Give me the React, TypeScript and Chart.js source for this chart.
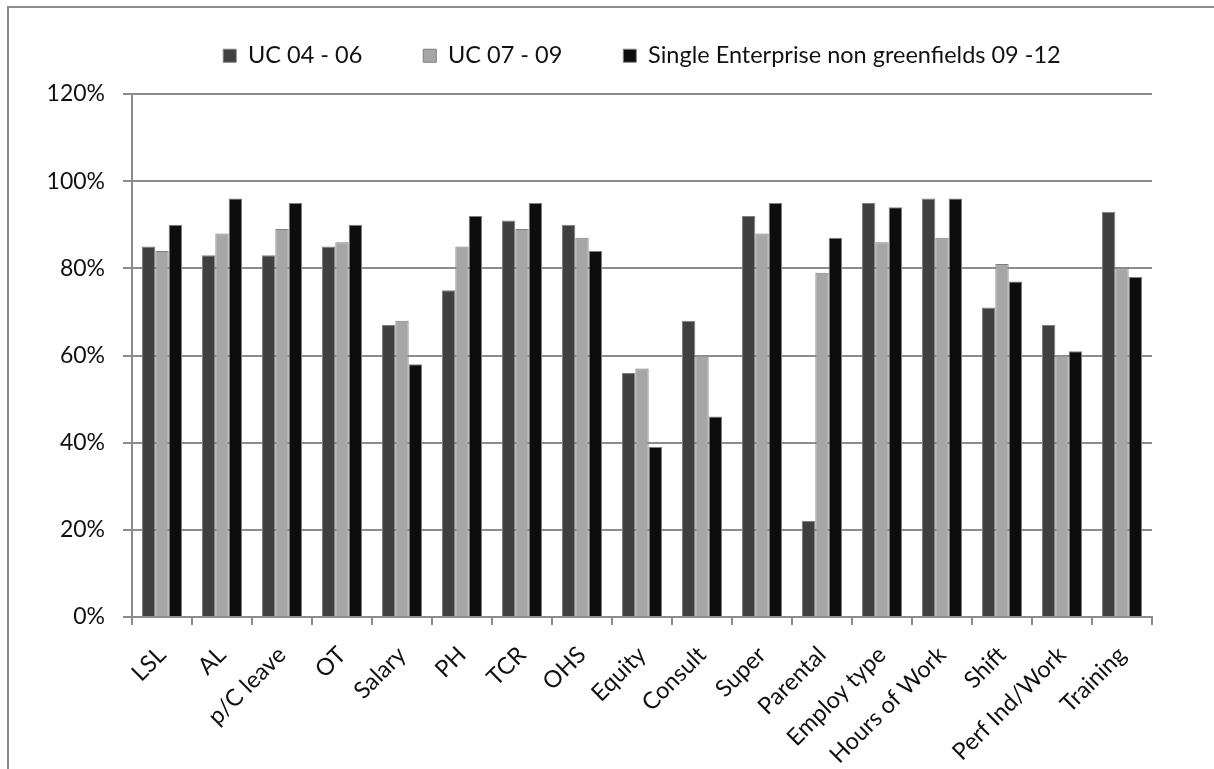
import React, { useEffect, useRef } from "react";
import { Chart, registerables } from "chart.js";

Chart.register(...registerables);

const categories = [
  "LSL", "AL", "p/C leave", "OT", "Salary", "PH", "TCR", "OHS", "Equity",
  "Consult", "Super", "Parental", "Employ type", "Hours of Work", "Shift",
  "Perf Ind/Work", "Training",
];
const seriesNames = ["UC 04 - 06", "UC 07 - 09", "Single Enterprise non greenfields 09 -12"];
const uc0406 = [85, 83, 83, 85, 67, 75, 91, 90, 56, 68, 92, 22, 95, 96, 71, 67, 93];
const uc0709 = [84, 88, 89, 86, 68, 85, 89, 87, 57, 60, 88, 79, 86, 87, 81, 60, 80];
const single0912 = [90, 96, 95, 90, 58, 92, 95, 84, 39, 46, 95, 87, 94, 96, 77, 61, 78];
const yTicks = [0, 20, 40, 60, 80, 100, 120];

const colors = ["#404040", "#a6a6a6", "#0d0d0d"];
const FONT = "Lato, 'Liberation Sans', sans-serif";

export default function App() {
  const ref = useRef<HTMLCanvasElement | null>(null);
  useEffect(() => {
    if (!ref.current) return;
    const legendTweak = {
      id: "legendTweak",
      beforeInit(chart: any) {
        const lg = chart.legend;
        if (!lg) return;
        const origFit = lg.fit;
        lg.fit = function () {
          origFit.call(this);
          this.height = 94;
        };
        const origDraw = lg.draw;
        lg.draw = function (...args: any[]) {
          const t = this.top;
          this.top = t - 17;
          origDraw.apply(this, args);
          this.top = t;
        };
      },
    };
    const data = [uc0406, uc0709, single0912];
    const chart = new Chart(ref.current, {
      type: "bar",
      data: {
        labels: categories,
        datasets: data.map((d, i) => ({
          label: seriesNames[i],
          data: d,
          backgroundColor: colors[i],
          borderColor: "#7f7f7f",
          borderWidth: 1,
          categoryPercentage: 0.667,
          barPercentage: 1,
        })),
      },
      options: {
        animation: false,
        responsive: false,
        devicePixelRatio: 1,
        layout: { padding: { top: 0, right: 62, bottom: 0, left: 0 } },
        plugins: {
          tooltip: { enabled: false },
          legend: {
            position: "top",
            fullSize: false,
            labels: {
              boxWidth: 13,
              boxHeight: 13,
              padding: 61,
              color: "#111111",
              font: { family: FONT, size: 23.5 },
            },
          },
        },
        scales: {
          x: {
            afterFit: (s: any) => {
              s.height = 769 - 617;
            },
            grid: {
              drawOnChartArea: false,
              drawTicks: true,
              tickLength: 8,
              color: "#8c8c8c",
              lineWidth: 2,
            },
            border: { color: "#8c8c8c", width: 2 },
            ticks: {
              autoSkip: false,
              minRotation: 45,
              maxRotation: 45,
              padding: 16,
              color: "#111111",
              font: { family: FONT, size: 23.5 },
            },
          },
          y: {
            min: 0,
            max: 120,
            afterFit: (s: any) => {
              s.width = 132;
            },
            afterBuildTicks: (s: any) => {
              s.ticks = yTicks.map((v) => ({ value: v }));
            },
            grid: {
              color: "#8c8c8c",
              lineWidth: 2,
              tickLength: 9,
            },
            border: { color: "#8c8c8c", width: 2 },
            ticks: {
              padding: 18,
              color: "#111111",
              font: { family: FONT, size: 23 },
              callback: (v: any) => v + "%",
            },
          },
        },
      },
      plugins: [legendTweak],
    });
    return () => chart.destroy();
  }, []);

  return (
    <>
      <div
        style={{
          position: "fixed",
          left: 7,
          top: 6,
          width: 1207,
          height: 763,
          borderTop: "2px solid #8c8c8c",
          borderLeft: "2px solid #8c8c8c",
          boxSizing: "border-box",
          pointerEvents: "none",
        }}
      />
      <canvas
        ref={ref}
        width={1214}
        height={769}
        style={{ position: "fixed", left: 0, top: 0, display: "block" }}
      />
    </>
  );
}
